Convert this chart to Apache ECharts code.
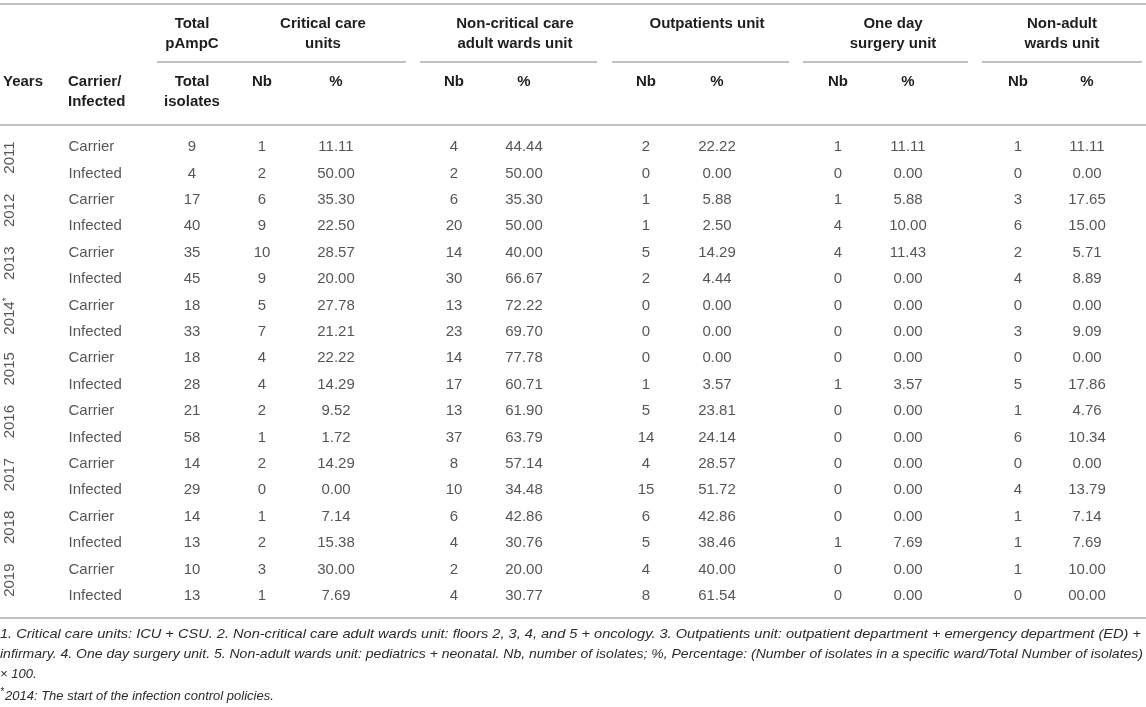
<!DOCTYPE html>
<html lang="en">
<head>
    <meta charset="UTF-8">
    <title>pAmpC isolates by ward</title>
    <script src="https://cdn.jsdelivr.net/npm/echarts@6/dist/echarts.min.js"></script>
    <style>
        html, body { margin: 0; padding: 0; background: #fff; }
        #main { width: 1146px; height: 707px; }
    </style>
</head>
<body>
<div id="main"></div>
<script>
    // table values, one row per year / status
    var years = ['2011', '2012', '2013', '2014', '2015', '2016', '2017', '2018', '2019'];
    var carrierInfected = ['Carrier', 'Infected'];
    var totalIsolates = [9, 4, 17, 40, 35, 45, 18, 33, 18, 28, 21, 58, 14, 29, 14, 13, 10, 13];
    var criticalNb = [1, 2, 6, 9, 10, 9, 5, 7, 4, 4, 2, 1, 2, 0, 1, 2, 3, 1];
    var criticalPct = ['11.11', '50.00', '35.30', '22.50', '28.57', '20.00', '27.78', '21.21', '22.22',
        '14.29', '9.52', '1.72', '14.29', '0.00', '7.14', '15.38', '30.00', '7.69'];
    var nonCriticalNb = [4, 2, 6, 20, 14, 30, 13, 23, 14, 17, 13, 37, 8, 10, 6, 4, 2, 4];
    var nonCriticalPct = ['44.44', '50.00', '35.30', '50.00', '40.00', '66.67', '72.22', '69.70', '77.78',
        '60.71', '61.90', '63.79', '57.14', '34.48', '42.86', '30.76', '20.00', '30.77'];
    var outpatientNb = [2, 0, 1, 1, 5, 2, 0, 0, 0, 1, 5, 14, 4, 15, 6, 5, 4, 8];
    var outpatientPct = ['22.22', '0.00', '5.88', '2.50', '14.29', '4.44', '0.00', '0.00', '0.00',
        '3.57', '23.81', '24.14', '28.57', '51.72', '42.86', '38.46', '40.00', '61.54'];
    var oneDayNb = [1, 0, 1, 4, 4, 0, 0, 0, 0, 1, 0, 0, 0, 0, 0, 1, 0, 0];
    var oneDayPct = ['11.11', '0.00', '5.88', '10.00', '11.43', '0.00', '0.00', '0.00', '0.00',
        '3.57', '0.00', '0.00', '0.00', '0.00', '0.00', '7.69', '0.00', '0.00'];
    var nonAdultNb = [1, 0, 3, 6, 2, 4, 0, 3, 0, 5, 1, 6, 0, 4, 1, 1, 1, 0];
    var nonAdultPct = ['11.11', '0.00', '17.65', '15.00', '5.71', '8.89', '0.00', '9.09', '0.00',
        '17.86', '4.76', '10.34', '0.00', '13.79', '7.14', '7.69', '10.00', '00.00'];

    // header texts
    var groupHeaders = [['Total', 'pAmpC'], ['Critical care', 'units'], ['Non-critical care', 'adult wards unit'],
        ['Outpatients unit'], ['One day', 'surgery unit'], ['Non-adult', 'wards unit']];
    var subHeaders = [['Years'], ['Carrier/', 'Infected'], ['Total', 'isolates'],
        ['Nb'], ['%'], ['Nb'], ['%'], ['Nb'], ['%'], ['Nb'], ['%'], ['Nb'], ['%']];
    var notes = [
        '1. Critical care units: ICU + CSU. 2. Non-critical care adult wards unit: floors 2, 3, 4, and 5 + oncology. 3. Outpatients unit: outpatient department + emergency department (ED) +',
        'infirmary. 4. One day surgery unit. 5. Non-adult wards unit: pediatrics + neonatal. Nb, number of isolates; %, Percentage: (Number of isolates in a specific ward/Total Number of isolates)',
        '\u00d7 100.',
        '2014: The start of the infection control policies.'
    ];

    // layout (pixels on the x value axis, which spans the full width)
    var colX = [10, 68, 192, 262, 336, 454, 524, 646, 717, 838, 908, 1018, 1087];
    var groupX = [192, 323, 515, 707, 893, 1062];
    var groupRules = [[157, 406], [420, 597], [612, 789], [803, 968], [982, 1142]];
    var FONT = '"Liberation Sans", Arial, Helvetica, sans-serif';
    var TXT = '#2b2b2b';
    var HEAD = '#1e1e1e';
    var RULE = '#acacac';

    var chart = echarts.init(document.getElementById('main'), null, {renderer: 'canvas'});

    function cellSeries(x, values, align) {
        return {
            type: 'scatter',
            silent: true,
            symbolSize: 1,
            itemStyle: {color: 'rgba(0,0,0,0)'},
            data: values.map(function (v, i) { return [x, i, String(v)]; }),
            label: {
                show: true,
                position: align === 'left' ? 'right' : 'inside',
                distance: 0,
                formatter: function (p) { return p.data[2]; },
                fontFamily: FONT,
                fontSize: 15,
                color: TXT
            }
        };
    }

    var statusCol = [];
    years.forEach(function () { statusCol = statusCol.concat(carrierInfected); });

    var columns = [null, statusCol, totalIsolates, criticalNb, criticalPct, nonCriticalNb, nonCriticalPct,
        outpatientNb, outpatientPct, oneDayNb, oneDayPct, nonAdultNb, nonAdultPct];

    var series = [];
    columns.forEach(function (vals, c) {
        if (vals) series.push(cellSeries(colX[c], vals, c === 1 ? 'left' : 'center'));
    });

    // years, rotated, centred on their two rows
    series.push({
        type: 'scatter',
        silent: true,
        symbolSize: 1,
        itemStyle: {color: 'rgba(0,0,0,0)'},
        data: years.map(function (y, i) { return [colX[0], 2 * i + 0.5 - 0.1, y]; }),
        label: {
            show: true,
            position: 'inside',
            rotate: 90,
            formatter: function (p) { return p.data[2] === '2014' ? '2014{s|*}' : p.data[2]; },
            rich: {s: {fontSize: 10, verticalAlign: 'top', padding: [0, 0, 6, 0], fontFamily: FONT, color: TXT}},
            fontFamily: FONT,
            fontSize: 15,
            color: TXT
        }
    });

    var graphic = [];
    function hline(x1, x2, y) {
        graphic.push({type: 'line', silent: true, shape: {x1: x1, y1: y, x2: x2, y2: y},
            style: {stroke: RULE, lineWidth: 1.5}});
    }
    function text(str, x, y, align, opts) {
        opts = opts || {};
        graphic.push({
            type: 'text', silent: true, x: x, y: y, scaleX: opts.scaleX || 1,
            style: {
                text: str, x: 0, y: 0, textAlign: align, textVerticalAlign: 'middle',
                font: (opts.style || '') + ' ' + (opts.weight || 'normal') + ' ' + (opts.size || 15) + 'px ' + FONT,
                fill: opts.color || TXT
            }
        });
    }

    hline(0, 1146, 4);
    groupRules.forEach(function (r) { hline(r[0], r[1], 62); });
    hline(0, 1146, 125);
    hline(0, 1146, 618);

    groupHeaders.forEach(function (lines, i) {
        lines.forEach(function (l, k) { text(l, groupX[i], 24 + k * 20, 'center', {weight: 'bold', color: HEAD}); });
    });
    subHeaders.forEach(function (lines, i) {
        var x = i === 0 ? 3 : (i === 1 ? 68 : colX[i]);
        var al = i <= 1 ? 'left' : 'center';
        lines.forEach(function (l, k) { text(l, x, 82 + k * 20, al, {weight: 'bold', color: HEAD}); });
    });

    // footnotes, each line fitted to the text block width
    var ctx = document.createElement('canvas').getContext('2d');
    function fit(str, size, width) {
        ctx.font = 'italic ' + size + 'px ' + FONT;
        return width / ctx.measureText(str).width;
    }
    var noteY = [634, 654, 674, 696];
    text(notes[0], 0, noteY[0], 'left', {style: 'italic', size: 13, scaleX: fit(notes[0], 13, 1141)});
    text(notes[1], 0, noteY[1], 'left', {style: 'italic', size: 13, scaleX: fit(notes[1], 13, 1143)});
    text(notes[2], 0, noteY[2], 'left', {style: 'italic', size: 13});
    text('*', 0, noteY[3] - 4, 'left', {style: 'italic', size: 10});
    text(notes[3], 5, noteY[3], 'left', {style: 'italic', size: 13});

    chart.setOption({
        animation: false,
        backgroundColor: '#fff',
        grid: {left: 0, right: 0, top: 133.8, bottom: 97.8},
        xAxis: {type: 'value', min: 0, max: 1146, show: false},
        yAxis: {type: 'value', min: -0.5, max: 17.5, inverse: true, show: false},
        series: series,
        graphic: graphic
    });
</script>
</body>
</html>
